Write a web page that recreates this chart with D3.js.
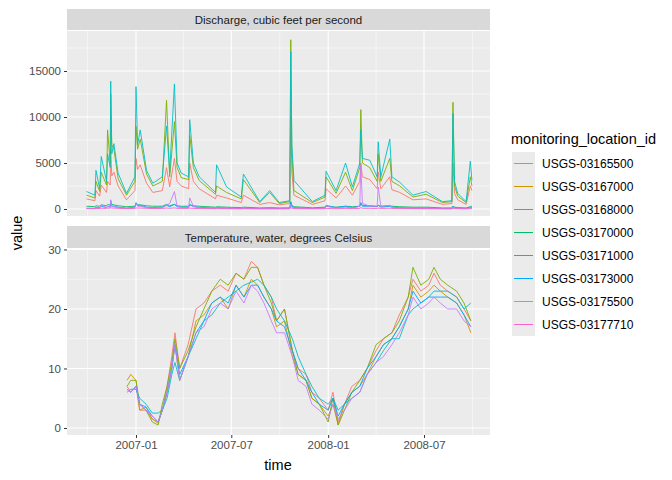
<!DOCTYPE html>
<html><head><meta charset="utf-8">
<script src="https://cdn.jsdelivr.net/npm/d3@7"></script>
<style>body{margin:0;background:#fff}text{font-family:"Liberation Sans",Arial,sans-serif}</style>
</head><body><div id="chart"></div>
<script>
// site ids, in legend order
var sites = ["USGS-03165500","USGS-03167000","USGS-03168000","USGS-03170000",
             "USGS-03171000","USGS-03173000","USGS-03175500","USGS-03177710"];
var colors = ["#F8766D","#CD9600","#7CAE00","#00BE67","#00BFC4","#00A9FF","#C77CFF","#FF61CC"];

// discharge, cubic feet per second
var qDates = ["2006-09-29","2006-10-15","2006-10-17","2006-10-24","2006-10-27","2006-11-06","2006-11-08","2006-11-13","2006-11-14","2006-11-16","2006-11-20","2006-11-28","2006-12-14","2006-12-30","2007-01-01","2007-01-04","2007-01-09","2007-01-21","2007-02-02","2007-02-20","2007-02-28","2007-03-06","2007-03-15","2007-03-20","2007-03-28","2007-04-11","2007-04-13","2007-04-20","2007-05-01","2007-06-01","2007-06-03","2007-06-22","2007-07-20","2007-07-24","2007-08-24","2007-09-12","2007-09-30","2007-10-20","2007-10-22","2007-10-24","2007-10-28","2007-12-02","2007-12-26","2007-12-28","2008-01-16","2008-02-03","2008-02-16","2008-03-01","2008-03-03","2008-03-06","2008-03-20","2008-04-03","2008-04-05","2008-04-10","2008-04-27","2008-05-01","2008-05-16","2008-06-10","2008-07-05","2008-08-05","2008-08-23","2008-08-25","2008-08-28","2008-09-03","2008-09-19","2008-09-27","2008-09-30"];
var q03171000 = [1900,1500,4200,2200,5700,3000,6000,4500,13900,6000,7100,3900,1700,3500,13300,7000,8600,4200,2800,3500,9000,4000,13600,5000,3900,3500,9700,5000,3500,1800,4800,2400,1300,3800,800,2000,700,900,17100,7000,3100,800,1500,4100,2000,5000,2400,5000,8600,5500,5300,3500,7300,3500,7600,3500,2900,1500,1900,800,900,10400,3000,1700,800,5200,3100];
var q03168000 = [1500,1200,3000,1900,4000,2600,8600,5000,12500,7000,6500,3300,1500,3000,9000,6500,7600,3800,2500,3000,11800,3500,9500,4500,3400,3200,8000,4500,3100,1600,2500,1800,1100,3200,700,1800,600,800,18400,6000,2000,700,1300,3500,1700,4000,2000,4500,10800,5000,4500,3000,6000,3000,5500,3000,2500,1300,1600,700,800,11600,2500,1400,700,3500,2500];
var q03165500 = [1100,900,2000,1400,2600,1800,3000,2600,6500,3600,4000,2500,1000,2000,5500,4300,4800,2800,1800,2000,4500,2400,5500,3000,2500,2200,5000,3000,2200,1100,1500,1200,700,1500,500,700,450,600,10000,4000,1500,500,900,2200,1200,2500,1500,3000,5000,3500,3200,2200,4000,2200,3500,2100,1800,1000,1100,500,600,5000,1700,1000,500,2500,2000];
var q03170000 = [300,250,350,300,450,350,500,400,700,500,450,350,250,300,600,450,450,350,300,300,500,350,500,350,300,300,450,350,300,200,250,200,150,200,120,150,120,130,800,400,250,130,200,300,200,300,250,300,600,400,350,300,400,300,350,300,250,200,200,120,120,300,200,150,120,250,300];
var q03173000 = [80,70,200,120,300,150,300,200,900,300,300,200,100,200,700,400,400,200,150,200,400,250,500,250,200,200,500,250,180,100,150,100,60,100,50,60,50,60,700,300,150,60,150,400,150,300,150,300,700,300,300,250,400,200,300,200,150,100,100,50,50,300,150,100,50,200,150];
var q03175500 = [60,50,120,80,500,150,300,200,1000,300,250,150,60,150,600,300,300,150,100,150,400,600,1900,300,150,150,1200,300,120,60,100,50,30,50,30,30,30,40,500,200,100,40,100,300,100,200,100,300,4800,600,300,300,2400,300,400,150,100,60,60,30,30,200,100,60,30,100,80];
var q03177710 = [40,40,60,50,80,60,100,80,150,100,100,70,40,60,120,100,100,70,50,60,100,70,120,70,60,60,100,60,50,30,40,30,20,30,20,20,20,20,150,80,40,20,30,60,30,60,40,60,150,80,70,60,100,60,80,60,50,30,30,20,20,60,40,30,20,40,30];

// water temperature, degrees Celsius
var tDates = ["2006-12-15","2006-12-22","2007-01-01","2007-01-08","2007-01-20","2007-02-01","2007-02-12","2007-02-20","2007-03-01","2007-03-10","2007-03-16","2007-03-25","2007-04-10","2007-04-25","2007-05-10","2007-05-25","2007-06-10","2007-06-25","2007-07-10","2007-07-25","2007-08-08","2007-08-20","2007-09-01","2007-09-15","2007-09-25","2007-10-10","2007-10-25","2007-11-05","2007-11-20","2007-12-01","2007-12-15","2008-01-01","2008-01-10","2008-01-20","2008-02-01","2008-02-15","2008-03-01","2008-03-15","2008-04-01","2008-04-15","2008-05-01","2008-05-15","2008-06-01","2008-06-10","2008-06-25","2008-07-10","2008-07-20","2008-08-01","2008-08-15","2008-09-01","2008-09-15","2008-09-28"];
var t03165500 = [7,6,7,3,3,1.5,1,3,7,12,16,10,14,20,21,23,24,23,26,25,28,27,24,22,18,20,13,10,9,6,5,3,6,1,4,7,8,10,13,15,16,19,22,25,23,24,26,24,23,22,20,18];
var t03167000 = [8,9,8,3,3.5,1.5,0.8,3,6,10,14,8,12,18,19,21,22,20,24,22,25,24,22,20,17,18,12,9,8,5,4,2,4,0.5,4,6,7,9,12,14,15,17,20,24,22,23,24,23,22,21,19,16];
var t03168000 = [7,8,8,4,3,1,0.5,4,7,11,15,10,13,17,20,23,25,24,26,25,27,27,24,21,18,20,13,9,8,5,4,1,5,0.5,3,6,8,10,14,15,16,18,22,27,24,25,27,25,24,23,21,18];
var t03171000 = [6,6.5,6.5,5,4,2.5,2.5,3,5,9,11,8,12,15,18,19,21,22,23,24,24.5,25,24,22,20,18,15,12,9,7,5,4,5,3,4,5,6,9,11,13,15,15,19,20,21,22,23,23,23,22,20,21];
var t03173000 = [6.5,6,7,4,3.5,2,1,3,6,10,14,9,12,16,18,21,22,21,24,22,24,24,22,20,18,17,13,10,8,6,4,3,5,2,4,6,7,10,12,14,15,17,20,23,21,22,22,22,22,21,19,17];
var t03175500 = [6.5,6,7,4,3,2,1,3,6,10,14,8,12,16,17,20,21,20,23,21,24,23,21,18,16,16,12,8,7,4,3,1.5,4,1.5,3,5,6,9,11,12,14,16,19,22,20,21,22,21,20,20,18,17];

var yTicksQ = [0, 5000, 10000, 15000];
var yTicksT = [0, 10, 20, 30];
var xTicks = ["2007-01-01","2007-07-01","2008-01-01","2008-07-01"];
var xMinor = ["2006-10-01","2007-04-01","2007-10-01","2008-04-01","2008-10-01"];

var P = d3.utcParse("%Y-%m-%d");
var panels = [
  {title: "Discharge, cubic feet per second", dates: qDates, top: 31, bottom: 216, stripTop: 9,
   domain: [-761, 19348], ticks: yTicksQ, minor: [2500, 7500, 12500, 17500],
   series: [[0,q03165500],[2,q03168000],[3,q03170000],[4,q03171000],[5,q03173000],[6,q03175500],[7,q03177710]]},
  {title: "Temperature, water, degrees Celsius", dates: tDates, top: 249, bottom: 435, stripTop: 226,
   domain: [-1.18, 30.08], ticks: yTicksT, minor: [5, 15, 25],
   series: [[0,t03165500],[1,t03167000],[2,t03168000],[4,t03171000],[5,t03173000],[6,t03175500]]}
];
var left = 67, right = 490;
var x = d3.scaleUtc().domain([P("2007-01-01"), P("2008-07-01")]).range([136, 424]);

var svg = d3.select("#chart").append("svg").attr("width", 672).attr("height", 480);

panels.forEach(function(p) {
  var y = d3.scaleLinear().domain(p.domain).range([p.bottom, p.top]);
  svg.append("rect").attr("x", left).attr("y", p.stripTop).attr("width", right - left)
     .attr("height", p.top - p.stripTop - 1).attr("fill", "#D9D9D9");
  svg.append("text").attr("x", (left + right) / 2).attr("y", (p.stripTop + p.top) / 2 + 4)
     .attr("text-anchor", "middle").attr("font-size", 11.5).attr("fill", "#1A1A1A").text(p.title);
  svg.append("rect").attr("x", left).attr("y", p.top).attr("width", right - left)
     .attr("height", p.bottom - p.top).attr("fill", "#EBEBEB");
  var g = svg.append("g");
  p.minor.forEach(function(v) {
    g.append("line").attr("x1", left).attr("x2", right).attr("y1", y(v)).attr("y2", y(v))
     .attr("stroke", "#fff").attr("stroke-width", 0.5);
  });
  xMinor.forEach(function(d) {
    g.append("line").attr("x1", x(P(d))).attr("x2", x(P(d))).attr("y1", p.top).attr("y2", p.bottom)
     .attr("stroke", "#fff").attr("stroke-width", 0.5);
  });
  p.ticks.forEach(function(v) {
    g.append("line").attr("x1", left).attr("x2", right).attr("y1", y(v)).attr("y2", y(v))
     .attr("stroke", "#fff").attr("stroke-width", 1.1);
  });
  xTicks.forEach(function(d) {
    g.append("line").attr("x1", x(P(d))).attr("x2", x(P(d))).attr("y1", p.top).attr("y2", p.bottom)
     .attr("stroke", "#fff").attr("stroke-width", 1.1);
  });
  var line = d3.line().x(function(v, i) { return x(P(p.dates[i])); }).y(function(v) { return y(v); });
  p.series.forEach(function(s) {
    svg.append("path").attr("d", line(s[1])).attr("fill", "none")
       .attr("stroke", colors[s[0]]).attr("stroke-width", 0.9);
  });
  var ax = svg.append("g").attr("transform", "translate(" + left + ",0)")
     .call(d3.axisLeft(y).tickValues(p.ticks).tickFormat(d3.format("d")).tickSize(3).tickPadding(3));
  ax.select(".domain").remove();
  ax.selectAll("line").attr("stroke", "#333");
  ax.selectAll("text").attr("font-size", 11.5).attr("fill", "#4D4D4D").style("font-family", "Liberation Sans, Arial");
});

var xa = svg.append("g").attr("transform", "translate(0,435)")
   .call(d3.axisBottom(x).tickValues(xTicks.map(P)).tickFormat(d3.utcFormat("%Y-%m")).tickSize(3).tickPadding(3));
xa.select(".domain").remove();
xa.selectAll("line").attr("stroke", "#333");
xa.selectAll("text").attr("font-size", 11.5).attr("fill", "#4D4D4D").style("font-family", "Liberation Sans, Arial");

svg.append("text").attr("x", 278).attr("y", 470).attr("text-anchor", "middle")
   .attr("font-size", 14.5).attr("fill", "#000").text("time");
svg.append("text").attr("transform", "translate(22,233) rotate(-90)").attr("text-anchor", "middle")
   .attr("font-size", 14.5).attr("fill", "#000").text("value");

// legend
svg.append("text").attr("x", 511).attr("y", 144).attr("font-size", 14.5).text("monitoring_location_id");
var leg = svg.selectAll(".leg").data(sites).enter().append("g")
   .attr("transform", function(d, i) { return "translate(512," + (152 + i * 23) + ")"; });
leg.append("rect").attr("width", 23).attr("height", 23).attr("fill", "#EBEBEB");
leg.append("line").attr("x1", 2).attr("x2", 21).attr("y1", 11.5).attr("y2", 11.5)
   .attr("stroke", function(d, i) { return colors[i]; }).attr("stroke-width", 1);
leg.append("text").attr("x", 30).attr("y", 16).attr("font-size", 12).attr("fill", "#000").text(function(d) { return d; });
</script></body></html>
